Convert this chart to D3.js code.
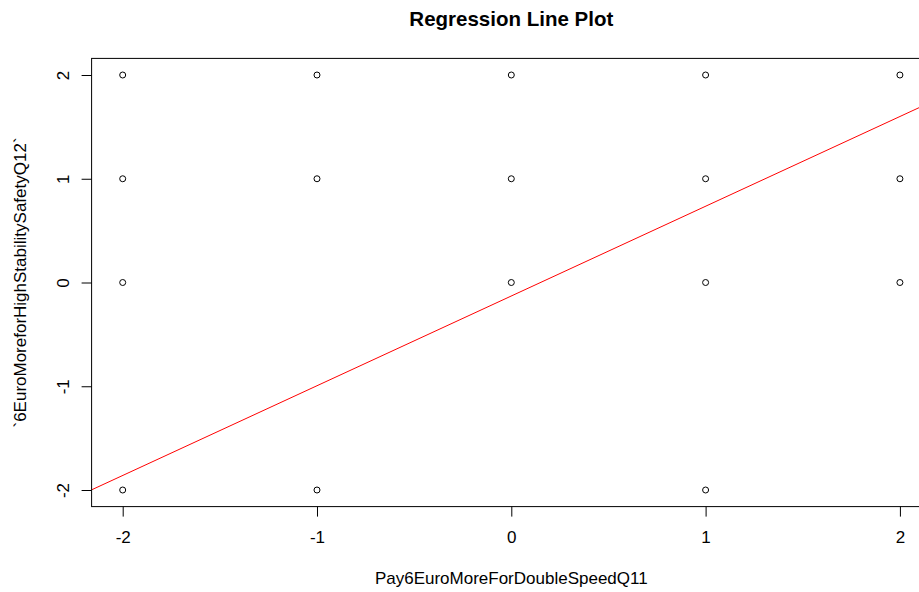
<!DOCTYPE html>
<html><head><meta charset="utf-8">
<script src="https://cdn.jsdelivr.net/npm/d3@7/dist/d3.min.js"></script>
<style>body{margin:0;background:#fff}svg{display:block}text{font-family:"Liberation Sans",Arial,sans-serif}</style>
</head><body>
<svg id="c" width="919" height="592"></svg>
<script>
const xVals = [-2,-2,-2,-2,-1,-1,-1,0,0,0,1,1,1,1,2,2,2];
const yVals = [2,1,0,-2,2,1,-2,2,1,0,2,1,0,-2,2,1,0];
const xTicks = [-2,-1,0,1,2];
const yTicks = [-2,-1,0,1,2];
const regIntercept = -0.13;
const regSlope = 0.865;
const title = "Regression Line Plot";
const xLabel = "Pay6EuroMoreForDoubleSpeedQ11";
const yLabel = "`6EuroMoreforHighStabilitySafetyQ12`";

const fmt = d => String(d);
const svg = d3.select("#c");
const L = 91.6, R = 931, T = 58.4, B = 506.6;
const x = d3.scaleLinear().domain([-2.16, 2.16]).range([L, R]);
const y = d3.scaleLinear().domain([-2.16, 2.16]).range([B, T]);

svg.append("clipPath").attr("id","pc").append("rect")
  .attr("x",L).attr("y",T).attr("width",R-L).attr("height",B-T);

// regression line
svg.append("line")
  .attr("clip-path","url(#pc)")
  .attr("x1", x(-2.16)).attr("y1", y(regIntercept + regSlope*-2.16))
  .attr("x2", x(2.16)).attr("y2", y(regIntercept + regSlope*2.16))
  .attr("stroke","#ff0000").attr("stroke-width",1);

// points
svg.append("g").selectAll("circle").data(xVals.map((d,i)=>[d,yVals[i]])).join("circle")
  .attr("cx", d=>x(d[0])).attr("cy", d=>y(d[1])).attr("r",3)
  .attr("fill","none").attr("stroke","#000").attr("stroke-width",1);

// box
svg.append("rect").attr("x",L).attr("y",T).attr("width",R-L).attr("height",B-T)
  .attr("fill","none").attr("stroke","#000").attr("stroke-width",1);

// x axis
const xa = svg.append("g").attr("transform",`translate(0,${B})`)
  .call(d3.axisBottom(x).tickValues(xTicks).tickSize(10).tickFormat(fmt));
xa.select(".domain").remove();
xa.selectAll("line").attr("stroke","#000");
xa.selectAll("text").attr("y",36).attr("dy",0).attr("font-size",17).attr("fill","#000")
  .style("font-family","Liberation Sans, Arial, sans-serif");

// y axis
const ya = svg.append("g").attr("transform",`translate(${L},0)`)
  .call(d3.axisLeft(y).tickValues(yTicks).tickSize(10).tickFormat(fmt));
ya.select(".domain").remove();
ya.selectAll("line").attr("stroke","#000");
ya.selectAll("text").remove();
ya.selectAll(".tick").append("text")
  .attr("transform","translate(-29,0) rotate(-90)")
  .attr("text-anchor","middle").attr("dy","0.35em")
  .attr("font-size",17).attr("fill","#000").text(fmt);

// title
svg.append("text").attr("x",(L+R)/2).attr("y",26).attr("text-anchor","middle")
  .attr("font-size",20.5).attr("font-weight","bold").text(title);
// x label
svg.append("text").attr("x",(L+R)/2).attr("y",584).attr("text-anchor","middle")
  .attr("font-size",17).text(xLabel);
// y label
svg.append("text").attr("transform",`translate(26,${(T+B)/2}) rotate(-90)`).attr("text-anchor","middle")
  .attr("font-size",17).text(yLabel);
</script>
</body></html>
